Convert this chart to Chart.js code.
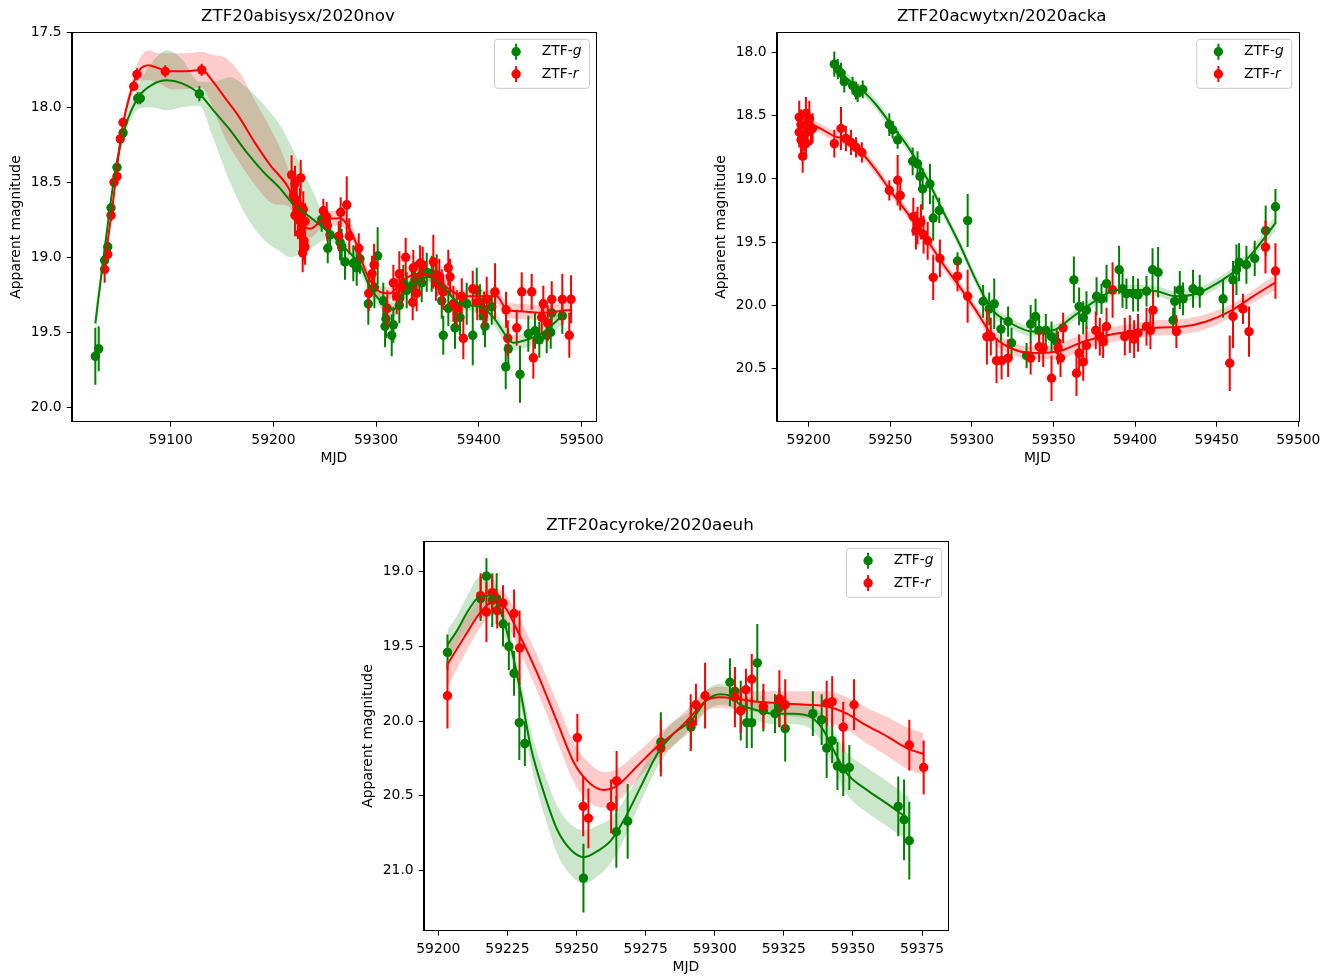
<!DOCTYPE html>
<html>
<head>
<meta charset="utf-8">
<title>ZTF light curves</title>
<script src="https://cdn.jsdelivr.net/npm/chart.js@4.4.0/dist/chart.umd.min.js"></script>
<style>
  html, body { margin: 0; padding: 0; background: #fff; overflow: hidden; }
  body { width: 1334px; height: 977px; position: relative; }
  canvas { position: absolute; }
</style>
</head>
<body>
<canvas id="c1" width="668" height="480" style="left:0px;top:0px"></canvas>
<canvas id="c2" width="668" height="480" style="left:705px;top:0px"></canvas>
<canvas id="c3" width="668" height="480" style="left:352px;top:509px"></canvas>
<script>
// ---- panel 1: ZTF20abisysx/2020nov ----
const title1 = 'ZTF20abisysx/2020nov';
const xTicks1 = [59100, 59200, 59300, 59400, 59500];
const yTicks1 = [17.5, 18.0, 18.5, 19.0, 19.5, 20.0];
const gMjd1 = [59026.6, 59029.9, 59035.7, 59038.7, 59041.9, 59047.7, 59053.6, 59067.9, 59070.4, 59127.9,
  59220.5, 59226.0, 59247.0, 59252.9, 59255.1, 59264.9, 59266.5, 59269.7, 59277.8, 59281.1,
  59284.3, 59301.5, 59298.3, 59292.4, 59307.0, 59309.6, 59308.7, 59315.2, 59316.8, 59322.6,
  59326.5, 59329.8, 59334.7, 59337.9, 59342.1, 59344.4, 59349.3, 59354.1, 59359.0, 59363.9,
  59365.4, 59370.3, 59376.8, 59381.7, 59388.2, 59394.1, 59398.0, 59401.2, 59404.4, 59406.0,
  59412.6, 59426.2, 59428.7, 59440.1, 59448.2, 59454.7, 59458.9, 59466.1, 59470.0, 59471.0, 59481.3];
const gMag1 = [19.66, 19.61, 19.02, 18.93, 18.67, 18.40, 18.17, 17.94, 17.94, 17.91,
  18.62, 18.70, 18.75, 18.94, 18.85, 18.90, 18.93, 19.03, 19.04, 19.07,
  19.01, 18.99, 19.20, 19.31, 19.29, 19.41, 19.46, 19.52, 19.45, 19.32,
  19.17, 19.22, 19.19, 19.15, 19.13, 19.17, 19.10, 19.11, 19.12, 19.29,
  19.52, 19.34, 19.47, 19.40, 19.31, 19.52, 19.22, 19.30, 19.39, 19.46,
  19.33, 19.73, 19.61, 19.78, 19.51, 19.49, 19.55, 19.52, 19.50, 19.37, 19.39];
const gErr1 = [0.19, 0.15, 0.03, 0.03, 0.03, 0.03, 0.03, 0.04, 0.04, 0.05,
  0.08, 0.1, 0.08, 0.1, 0.1, 0.12, 0.12, 0.12, 0.12, 0.12,
  0.1, 0.19, 0.14, 0.14, 0.12, 0.13, 0.14, 0.14, 0.12, 0.12,
  0.12, 0.12, 0.13, 0.12, 0.12, 0.13, 0.13, 0.12, 0.14, 0.12,
  0.13, 0.12, 0.14, 0.12, 0.14, 0.2, 0.15, 0.12, 0.13, 0.14,
  0.12, 0.15, 0.14, 0.19, 0.12, 0.12, 0.12, 0.12, 0.11, 0.1, 0.12];
const rMjd1 = [59035.7, 59038.7, 59041.9, 59044.8, 59047.7, 59050.9, 59053.6, 59064.0, 59067.2, 59094.7, 59130.2,
  59217.7, 59226.6, 59221.0, 59219.4, 59222.7, 59225.9, 59229.1, 59221.0, 59224.2, 59227.5, 59230.8, 59225.9, 59229.8, 59230.8, 59228.5,
  59248.6, 59251.9, 59252.5, 59265.5, 59271.4, 59263.6, 59273.9, 59283.1, 59298.0, 59296.0,
  59292.8, 59310.9, 59316.8, 59322.6, 59320.1, 59328.8, 59325.2, 59335.6, 59336.2, 59339.5,
  59342.8, 59345.4, 59355.7, 59358.3, 59361.5, 59363.9, 59365.4, 59370.3, 59372.0, 59375.2,
  59378.5, 59383.4, 59384.9, 59394.1, 59398.5, 59405.1, 59407.7, 59415.8, 59426.5, 59428.2,
  59436.9, 59441.8, 59451.5, 59453.1, 59461.3, 59462.8, 59467.1, 59471.0, 59481.3, 59488.1, 59489.8];
const rMag1 = [19.08, 18.98, 18.72, 18.50, 18.46, 18.21, 18.10, 17.86, 17.78, 17.76, 17.75,
  18.45, 18.47, 18.51, 18.59, 18.62, 18.66, 18.68, 18.72, 18.75, 18.80, 18.76, 18.84, 18.89, 18.93, 18.97,
  18.69, 18.73, 18.79, 18.70, 18.65, 18.86, 18.86, 18.94, 19.05, 19.11,
  19.24, 19.34, 19.17, 19.11, 19.26, 19.00, 19.20, 19.30, 19.07, 19.24,
  19.04, 19.05, 19.03, 19.17, 19.13, 19.20, 19.23, 19.07, 19.13, 19.31,
  19.34, 19.26, 19.54, 19.21, 19.30, 19.35, 19.28, 19.23, 19.35, 19.54,
  19.47, 19.23, 19.23, 19.67, 19.40, 19.31, 19.44, 19.28, 19.28, 19.52, 19.28];
const rErr1 = [0.09, 0.03, 0.04, 0.03, 0.03, 0.03, 0.03, 0.03, 0.04, 0.04, 0.04,
  0.13, 0.12, 0.12, 0.14, 0.13, 0.12, 0.12, 0.14, 0.13, 0.12, 0.12, 0.12, 0.13, 0.12, 0.13,
  0.08, 0.1, 0.1, 0.1, 0.19, 0.1, 0.12, 0.1, 0.14, 0.12,
  0.12, 0.12, 0.12, 0.15, 0.12, 0.13, 0.12, 0.12, 0.12, 0.12,
  0.12, 0.12, 0.18, 0.12, 0.12, 0.12, 0.12, 0.12, 0.12, 0.12,
  0.12, 0.12, 0.14, 0.12, 0.12, 0.12, 0.15, 0.19, 0.12, 0.12,
  0.12, 0.13, 0.12, 0.14, 0.12, 0.12, 0.12, 0.12, 0.17, 0.15, 0.16];
// GP fit: mean curve and 1-sigma half width
const gFitMjd1 = [59026.6, 59036.3, 59046.1, 59055.8, 59068.8, 59081.8, 59096.4, 59111.0, 59127.9, 59141.5,
  59157.7, 59174.0, 59190.2, 59206.4, 59216.0, 59226.0, 59239.0, 59251.9, 59271.4, 59284.3,
  59294.1, 59307.0, 59316.8, 59326.5, 59342.8, 59352.5, 59365.4, 59381.7, 59401.2, 59414.2,
  59427.2, 59433.6, 59446.7, 59462.8, 59481.3];
const gFit1 = [19.44, 18.91, 18.42, 18.13, 17.93, 17.85, 17.82, 17.84, 17.91, 18.02,
  18.15, 18.30, 18.43, 18.54, 18.62, 18.68, 18.75, 18.82, 18.95, 19.05,
  19.20, 19.31, 19.35, 19.24, 19.15, 19.13, 19.20, 19.31, 19.33, 19.40,
  19.53, 19.57, 19.55, 19.50, 19.39];
const gSig1 = [0.1, 0.04, 0.04, 0.05, 0.08, 0.15, 0.2, 0.16, 0.08, 0.19,
  0.35, 0.43, 0.45, 0.42, 0.38, 0.3, 0.18, 0.06, 0.05, 0.05,
  0.05, 0.05, 0.05, 0.05, 0.04, 0.04, 0.04, 0.04, 0.04, 0.05,
  0.05, 0.05, 0.05, 0.05, 0.06];
const rFitMjd1 = [59035.7, 59042.9, 59052.6, 59062.3, 59068.8, 59078.6, 59088.3, 59101.3, 59115.0, 59130.2,
  59140.2, 59153.2, 59166.2, 59182.4, 59198.6, 59206.4, 59214.9, 59225.9, 59235.6, 59248.6,
  59264.9, 59277.8, 59290.8, 59303.8, 59313.5, 59326.5, 59342.8, 59355.7, 59368.7, 59384.9,
  59401.2, 59417.4, 59427.2, 59440.1, 59459.6, 59490.4];
const rFit1 = [19.04, 18.68, 18.15, 17.87, 17.76, 17.72, 17.74, 17.76, 17.76, 17.75,
  17.82, 17.94, 18.06, 18.24, 18.40, 18.46, 18.54, 18.75, 18.81, 18.75,
  18.74, 18.86, 19.11, 19.23, 19.24, 19.15, 19.11, 19.13, 19.20, 19.26,
  19.26, 19.26, 19.35, 19.36, 19.37, 19.35];
const rSig1 = [0.04, 0.04, 0.04, 0.05, 0.07, 0.1, 0.1, 0.12, 0.12, 0.12,
  0.17, 0.27, 0.3, 0.28, 0.24, 0.19, 0.12, 0.08, 0.06, 0.05,
  0.05, 0.05, 0.05, 0.04, 0.04, 0.04, 0.04, 0.04, 0.04, 0.04,
  0.04, 0.05, 0.05, 0.05, 0.05, 0.06];

// ---- panel 2: ZTF20acwytxn/2020acka ----
const title2 = 'ZTF20acwytxn/2020acka';
const xTicks2 = [59200, 59250, 59300, 59350, 59400, 59450, 59500];
const yTicks2 = [18.0, 18.5, 19.0, 19.5, 20.0, 20.5];
const gMjd2 = [59215.7, 59217.8, 59219.8, 59221.8, 59226.9, 59229.0, 59230.0, 59233.1, 59249.4, 59251.4,
  59254.5, 59263.7, 59266.7, 59268.2, 59269.8, 59274.3, 59276.3, 59280.0, 59291.2, 59297.4,
  59306.9, 59310.6, 59313.7, 59317.8, 59322.2, 59324.3, 59333.5, 59336.0, 59339.0, 59341.2,
  59345.3, 59348.8, 59351.9, 59362.5, 59365.7, 59368.2, 59370.2, 59376.4, 59379.4, 59382.5,
  59390.2, 59392.3, 59394.7, 59398.8, 59401.8, 59407.0, 59410.7, 59414.1, 59423.3, 59424.3,
  59427.4, 59429.4, 59435.5, 59439.6, 59453.9, 59460.0, 59462.1, 59463.7, 59468.2, 59473.3, 59480.0, 59486.0];
const gMag2 = [18.09, 18.13, 18.16, 18.23, 18.26, 18.30, 18.32, 18.29, 18.57, 18.61,
  18.69, 18.86, 18.88, 18.98, 19.08, 19.04, 19.31, 19.25, 19.65, 19.33,
  19.97, 20.03, 19.99, 20.19, 20.13, 20.30, 20.40, 20.15, 20.09, 20.20,
  20.20, 20.25, 20.29, 19.80, 20.01, 20.10, 20.04, 19.93, 19.95, 19.83,
  19.72, 19.87, 19.91, 19.91, 19.92, 19.89, 19.72, 19.74, 20.12, 19.97,
  19.88, 19.95, 19.87, 19.89, 19.95, 19.80, 19.72, 19.66, 19.68, 19.63, 19.41, 19.22];
const gErr2 = [0.1, 0.08, 0.08, 0.085, 0.07, 0.07, 0.07, 0.07, 0.09, 0.07,
  0.07, 0.11, 0.1, 0.1, 0.165, 0.16, 0.18, 0.1, 0.07, 0.21,
  0.13, 0.13, 0.2, 0.1, 0.12, 0.12, 0.1, 0.15, 0.14, 0.12,
  0.13, 0.12, 0.1, 0.185, 0.15, 0.13, 0.15, 0.15, 0.12, 0.15,
  0.19, 0.15, 0.12, 0.14, 0.13, 0.12, 0.17, 0.2, 0.1, 0.12,
  0.15, 0.13, 0.15, 0.13, 0.15, 0.15, 0.2, 0.15, 0.15, 0.14, 0.2, 0.14];
const rMjd2 = [59194.2, 59198.3, 59200.4, 59195.3, 59199.4, 59202.4, 59194.2, 59197.3, 59201.4, 59195.3, 59198.3, 59196.3,
  59215.7, 59219.8, 59222.8, 59225.9, 59229.0, 59232.6,
  59249.4, 59254.5, 59256.1, 59264.1, 59266.7, 59268.8, 59265.7, 59270.4, 59272.9, 59276.3, 59280.4,
  59291.2, 59297.4, 59309.2, 59311.6, 59315.1, 59318.2, 59322.2, 59336.0, 59341.2, 59343.7, 59348.8,
  59352.8, 59354.3, 59355.9, 59364.1, 59365.7, 59368.2, 59370.2, 59375.9, 59378.4, 59380.4, 59382.5,
  59386.2, 59393.7, 59396.8, 59399.4, 59401.8, 59407.0, 59409.4, 59411.0, 59425.3,
  59458.0, 59460.0, 59466.1, 59469.8, 59479.9, 59486.0];
const rMag2 = [18.51, 18.48, 18.52, 18.57, 18.59, 18.60, 18.63, 18.65, 18.61, 18.69, 18.72, 18.82,
  18.72, 18.60, 18.68, 18.71, 18.75, 18.79,
  19.09, 19.01, 19.13, 19.30, 19.37, 19.34, 19.41, 19.44, 19.49, 19.78, 19.63,
  19.77, 19.93, 20.25, 20.25, 20.44, 20.44, 20.42, 20.42, 20.33, 20.34, 20.58,
  20.34, 20.42, 20.18, 20.54, 20.38, 20.45, 20.32, 20.20, 20.25, 20.29, 20.17,
  19.88, 20.25, 20.23, 20.27, 20.22, 20.17, 20.20, 20.04, 20.21,
  20.46, 20.09, 20.03, 20.21, 19.54, 19.73];
const rErr2 = [0.13, 0.13, 0.14, 0.12, 0.13, 0.12, 0.12, 0.13, 0.12, 0.12, 0.12, 0.13,
  0.11, 0.17, 0.1, 0.1, 0.08, 0.08,
  0.08, 0.2, 0.12, 0.15, 0.15, 0.14, 0.15, 0.15, 0.15, 0.18, 0.15,
  0.12, 0.21, 0.22, 0.15, 0.18, 0.15, 0.15, 0.13, 0.12, 0.15, 0.18,
  0.13, 0.15, 0.12, 0.18, 0.15, 0.15, 0.15, 0.15, 0.15, 0.13, 0.15,
  0.22, 0.15, 0.15, 0.15, 0.15, 0.15, 0.15, 0.16, 0.13,
  0.22, 0.25, 0.12, 0.2, 0.21, 0.22];
const gFitMjd2 = [59215.7, 59224.0, 59233.1, 59241.2, 59249.4, 59261.6, 59271.8, 59282.1, 59292.2, 59302.4,
  59312.0, 59323.3, 59337.5, 59349.8, 59362.0, 59376.4, 59388.6, 59400.9, 59413.1, 59425.3,
  59437.6, 59449.8, 59462.1, 59474.3, 59486.0];
const gFit2 = [18.10, 18.21, 18.30, 18.41, 18.55, 18.76, 18.98, 19.25, 19.51, 19.80,
  20.03, 20.14, 20.21, 20.20, 20.09, 19.96, 19.88, 19.88, 19.89, 19.93,
  19.91, 19.83, 19.72, 19.55, 19.35];
const gSig2 = [0.05, 0.04, 0.04, 0.04, 0.04, 0.04, 0.04, 0.04, 0.04, 0.04,
  0.04, 0.04, 0.04, 0.04, 0.04, 0.04, 0.04, 0.04, 0.04, 0.04,
  0.04, 0.04, 0.04, 0.05, 0.06];
const rFitMjd2 = [59194.2, 59202.4, 59215.7, 59222.8, 59233.0, 59241.2, 59249.4, 59261.6, 59271.8, 59282.1,
  59292.2, 59302.4, 59312.0, 59322.0, 59337.5, 59351.9, 59368.2, 59382.5, 59396.8, 59413.1,
  59429.4, 59443.7, 59458.0, 59472.3, 59486.0];
const rFit2 = [18.55, 18.57, 18.66, 18.69, 18.80, 18.93, 19.08, 19.29, 19.47, 19.67,
  19.85, 20.04, 20.23, 20.33, 20.38, 20.37, 20.29, 20.24, 20.21, 20.18,
  20.17, 20.13, 20.05, 19.93, 19.82];
const rSig2 = [0.05, 0.04, 0.04, 0.04, 0.04, 0.04, 0.04, 0.04, 0.04, 0.04,
  0.04, 0.04, 0.05, 0.05, 0.05, 0.06, 0.06, 0.06, 0.06, 0.06,
  0.06, 0.06, 0.05, 0.05, 0.06];

// ---- panel 3: ZTF20acyroke/2020aeuh ----
const title3 = 'ZTF20acyroke/2020aeuh';
const xTicks3 = [59200, 59225, 59250, 59275, 59300, 59325, 59350, 59375];
const yTicks3 = [19.0, 19.5, 20.0, 20.5, 21.0];
const gMjd3 = [59203.3, 59215.3, 59217.4, 59219.5, 59221.1, 59223.4, 59225.5, 59227.4, 59229.3, 59231.3,
  59252.5, 59264.4, 59268.5, 59280.5, 59291.4,
  59305.5, 59307.3, 59309.4, 59311.6, 59313.4, 59315.4, 59317.6, 59321.8, 59323.4, 59325.5,
  59335.5, 59338.7, 59340.5, 59342.5, 59344.4, 59346.5, 59348.7, 59366.4, 59368.5, 59370.4];
const gMag3 = [19.54, 19.18, 19.03, 19.19, 19.18, 19.35, 19.50, 19.68, 20.01, 20.15,
  21.05, 20.74, 20.67, 20.14, 20.04,
  19.74, 19.80, 19.93, 20.01, 20.01, 19.61, 19.93, 19.95, 19.91, 20.05,
  19.95, 19.99, 20.18, 20.13, 20.30, 20.32, 20.31, 20.57, 20.66, 20.80];
const gErr3 = [0.12, 0.15, 0.12, 0.18, 0.17, 0.15, 0.16, 0.15, 0.25, 0.15,
  0.23, 0.24, 0.25, 0.2, 0.15,
  0.16, 0.16, 0.2, 0.17, 0.17, 0.26, 0.14, 0.13, 0.13, 0.22,
  0.15, 0.17, 0.2, 0.15, 0.16, 0.18, 0.15, 0.2, 0.27, 0.26];
const rMjd3 = [59203.3, 59215.3, 59217.4, 59219.5, 59221.3, 59223.4, 59227.4, 59229.4,
  59250.3, 59252.4, 59254.3, 59262.5, 59264.5, 59280.5, 59291.3, 59293.2, 59296.5,
  59307.3, 59309.4, 59311.3, 59313.4, 59317.6, 59323.4, 59325.5,
  59340.5, 59342.5, 59346.5, 59350.4, 59370.4, 59375.6];
const rMag3 = [19.83, 19.16, 19.27, 19.14, 19.26, 19.21, 19.28, 19.51,
  20.11, 20.57, 20.65, 20.57, 20.40, 20.18, 20.01, 19.89, 19.83,
  19.84, 19.93, 19.79, 19.72, 19.90, 19.85, 19.89,
  19.88, 19.87, 20.04, 19.89, 20.16, 20.31];
const rErr3 = [0.22, 0.15, 0.2, 0.12, 0.12, 0.12, 0.16, 0.25,
  0.16, 0.2, 0.2, 0.18, 0.2, 0.19, 0.19, 0.14, 0.22,
  0.2, 0.15, 0.14, 0.17, 0.15, 0.19, 0.17,
  0.15, 0.17, 0.17, 0.17, 0.17, 0.18];
const gFitMjd3 = [59203.3, 59206.9, 59210.5, 59214.7, 59219.0, 59222.6, 59226.2, 59229.8, 59233.4, 59238.2,
  59243.1, 59247.9, 59252.7, 59257.5, 59262.4, 59267.2, 59273.2, 59279.2, 59285.3, 59291.3,
  59297.1, 59301.9, 59305.5, 59309.2, 59314.0, 59321.2, 59328.4, 59334.5, 59339.3, 59342.9,
  59347.8, 59355.0, 59362.2, 59370.4];
const gFit3 = [19.49, 19.39, 19.27, 19.17, 19.16, 19.27, 19.50, 19.81, 20.17, 20.48,
  20.73, 20.86, 20.91, 20.87, 20.80, 20.66, 20.44, 20.22, 20.08, 20.00,
  19.86, 19.82, 19.83, 19.89, 19.92, 19.95, 19.95, 19.97, 20.06, 20.19,
  20.35, 20.46, 20.55, 20.66];
const gSig3 = [0.1, 0.1, 0.11, 0.13, 0.12, 0.09, 0.08, 0.09, 0.11, 0.14,
  0.16, 0.17, 0.18, 0.17, 0.15, 0.13, 0.1, 0.09, 0.08, 0.07,
  0.07, 0.07, 0.07, 0.07, 0.07, 0.07, 0.07, 0.08, 0.1, 0.12,
  0.14, 0.15, 0.15, 0.15];
const rFitMjd3 = [59203.3, 59209.3, 59215.3, 59220.2, 59223.8, 59229.8, 59235.8, 59243.1, 59249.1, 59255.1,
  59260.0, 59264.8, 59272.0, 59279.2, 59286.5, 59292.3, 59297.1, 59301.9, 59308.0, 59315.2,
  59323.6, 59333.3, 59340.5, 59347.8, 59355.0, 59362.2, 59369.5, 59375.6];
const rFit3 = [19.62, 19.44, 19.27, 19.20, 19.23, 19.44, 19.68, 20.01, 20.28, 20.42,
  20.46, 20.43, 20.30, 20.17, 20.06, 19.95, 19.86, 19.84, 19.85, 19.87,
  19.88, 19.89, 19.90, 19.95, 20.03, 20.10, 20.18, 20.22];
const rSig3 = [0.15, 0.12, 0.1, 0.09, 0.09, 0.11, 0.12, 0.13, 0.13, 0.13,
  0.12, 0.11, 0.09, 0.08, 0.08, 0.07, 0.07, 0.07, 0.07, 0.07,
  0.08, 0.09, 0.1, 0.11, 0.12, 0.13, 0.14, 0.14];

const GREEN = '#008000';
const RED = '#ff0000';
const FONT = 'DejaVu Sans';
Chart.defaults.font.family = FONT;
Chart.defaults.color = '#000';

// vertical error bars, drawn under the markers of each dataset
const errorBars = {
  id: 'errorBars',
  beforeDatasetDraw(chart, args) {
    const ds = chart.data.datasets[args.index];
    if (!ds.errors) return;
    const { ctx, chartArea: a, scales: { x, y } } = chart;
    ctx.save();
    ctx.beginPath();
    ctx.rect(a.left, a.top, a.width, a.height);
    ctx.clip();
    ctx.strokeStyle = ds.borderColor;
    ctx.lineWidth = 2;
    ds.data.forEach(function(p, i) {
      const e = ds.errors[i] || 0;
      const px = x.getPixelForValue(p.x);
      ctx.beginPath();
      ctx.moveTo(px, y.getPixelForValue(p.y - e));
      ctx.lineTo(px, y.getPixelForValue(p.y + e));
      ctx.stroke();
    });
    ctx.restore();
  }
};

// top and right spines
const frame = {
  id: 'frame',
  afterDatasetsDraw(chart) {
    const { ctx, chartArea: a } = chart;
    ctx.save();
    ctx.strokeStyle = '#000';
    ctx.lineWidth = 1;
    ctx.strokeRect(Math.round(a.left) + 0.5, Math.round(a.top) + 0.5,
      Math.round(a.width), Math.round(a.height));
    ctx.restore();
  }
};

// matplotlib-like legend box in the upper right corner
const legendBox = {
  id: 'legendBox',
  afterDraw(chart) {
    const { ctx, chartArea: a } = chart;
    const items = chart.data.datasets.filter(d => d.label);
    const w = 95, h = 49, r = 3;
    const x0 = a.right - 6.5 - w, y0 = a.top + 7;
    ctx.save();
    ctx.beginPath();
    ctx.moveTo(x0 + r, y0);
    ctx.arcTo(x0 + w, y0, x0 + w, y0 + h, r);
    ctx.arcTo(x0 + w, y0 + h, x0, y0 + h, r);
    ctx.arcTo(x0, y0 + h, x0, y0, r);
    ctx.arcTo(x0, y0, x0 + w, y0, r);
    ctx.closePath();
    ctx.fillStyle = 'rgba(255,255,255,0.8)';
    ctx.fill();
    ctx.strokeStyle = '#cccccc';
    ctx.lineWidth = 1;
    ctx.stroke();
    items.forEach(function(d, i) {
      const cy = y0 + 12.4 + i * 22.3;
      const cx = x0 + 21.6;
      ctx.strokeStyle = d.borderColor;
      ctx.lineWidth = 2;
      ctx.beginPath();
      ctx.moveTo(cx, cy - 8);
      ctx.lineTo(cx, cy + 8);
      ctx.stroke();
      ctx.fillStyle = d.borderColor;
      ctx.beginPath();
      ctx.arc(cx, cy, 4.7, 0, Math.PI * 2);
      ctx.fill();
      const parts = d.label.split('-');
      ctx.fillStyle = '#000';
      ctx.textBaseline = 'middle';
      ctx.font = '13.9px "' + FONT + '"';
      const tx = x0 + 47.3;
      ctx.fillText(parts[0] + '-', tx, cy);
      const tw = ctx.measureText(parts[0] + '-').width;
      ctx.font = 'italic 13.9px "' + FONT + '"';
      ctx.fillText(parts[1], tx + tw, cy);
    });
    ctx.restore();
  }
};

function makePanel(id, o) {
  const xy = (xs, ys) => xs.map((x, i) => ({ x: x, y: ys[i] }));
  const edge = (xs, ys, ss, k) => xs.map((x, i) => ({ x: x, y: ys[i] + k * ss[i] }));
  const band = (data, fill, color) => ({
    data: data, fill: fill, backgroundColor: color, borderWidth: 0, pointRadius: 0,
    cubicInterpolationMode: 'monotone', order: 10
  });
  const fitLine = (data, color, order) => ({
    data: data, borderColor: color, borderWidth: 2, pointRadius: 0, fill: false,
    cubicInterpolationMode: 'monotone', order: order
  });
  const points = (label, data, errs, color, order) => ({
    label: label, data: data, errors: errs, showLine: false, pointRadius: 4.7,
    pointBackgroundColor: color, pointBorderWidth: 0, borderColor: color,
    backgroundColor: color, order: order
  });
  const tickFont = { family: FONT, size: 13.9 };

  return new Chart(document.getElementById(id), {
    type: 'line',
    data: {
      datasets: [
        band(edge(o.gFitMjd, o.gFit, o.gSig, -1), '+1', 'rgba(0,128,0,0.2)'),
        band(edge(o.gFitMjd, o.gFit, o.gSig, 1), false, 'transparent'),
        band(edge(o.rFitMjd, o.rFit, o.rSig, -1), '+1', 'rgba(255,0,0,0.2)'),
        band(edge(o.rFitMjd, o.rFit, o.rSig, 1), false, 'transparent'),
        points('ZTF-g', xy(o.gMjd, o.gMag), o.gErr, GREEN, 6),
        points('ZTF-r', xy(o.rMjd, o.rMag), o.rErr, RED, 5),
        fitLine(xy(o.gFitMjd, o.gFit), GREEN, 2),
        fitLine(xy(o.rFitMjd, o.rFit), RED, 1)
      ]
    },
    options: {
      responsive: false,
      animation: false,
      events: [],
      layout: { padding: { left: 0, top: 0, bottom: 0, right: o.padRight } },
      plugins: {
        legend: { display: false },
        tooltip: { enabled: false },
        title: {
          display: true, text: o.title, color: '#000',
          font: { family: FONT, size: 16.7, weight: 'normal' },
          padding: { top: 7, bottom: 5.3 }
        }
      },
      scales: {
        x: {
          type: 'linear', min: o.xMin, max: o.xMax,
          afterFit: s => { s.height = 58.3; },
          afterBuildTicks: s => { s.ticks = o.xTicks.map(v => ({ value: v })); },
          ticks: { callback: v => String(v), font: tickFont, color: '#000', padding: 5, maxRotation: 0, autoSkip: false },
          grid: { drawOnChartArea: false, drawTicks: true, tickLength: 5, color: '#000' },
          border: { display: true, color: '#000', width: 1 },
          title: { display: true, text: 'MJD', color: '#000', font: tickFont, padding: { top: 0, bottom: 13.7 } }
        },
        y: {
          type: 'linear', reverse: true, min: o.yMin, max: o.yMax,
          afterFit: s => { s.width = 71.7; },
          afterBuildTicks: s => { s.ticks = o.yTicks.map(v => ({ value: v })); },
          ticks: { callback: v => v.toFixed(1), font: tickFont, color: '#000', padding: 5, autoSkip: false },
          grid: { drawOnChartArea: false, drawTicks: true, tickLength: 5, color: '#000' },
          border: { display: true, color: '#000', width: 1 },
          title: { display: true, text: 'Apparent magnitude', color: '#000', font: tickFont, padding: { top: 7.7, bottom: 0 } }
        }
      }
    },
    plugins: [errorBars, frame, legendBox]
  });
}

makePanel('c1', {
  title: title1, xTicks: xTicks1, yTicks: yTicks1,
  xMin: 59003.6, xMax: 59514.1, yMin: 17.5, yMax: 20.096, padRight: 72,
  gMjd: gMjd1, gMag: gMag1, gErr: gErr1, rMjd: rMjd1, rMag: rMag1, rErr: rErr1,
  gFitMjd: gFitMjd1, gFit: gFit1, gSig: gSig1, rFitMjd: rFitMjd1, rFit: rFit1, rSig: rSig1
});
makePanel('c2', {
  title: title2, xTicks: xTicks2, yTicks: yTicks2,
  xMin: 59180.4, xMax: 59500, yMin: 17.838, yMax: 20.924, padRight: 74.7,
  gMjd: gMjd2, gMag: gMag2, gErr: gErr2, rMjd: rMjd2, rMag: rMag2, rErr: rErr2,
  gFitMjd: gFitMjd2, gFit: gFit2, gSig: gSig2, rFitMjd: rFitMjd2, rFit: rFit2, rSig: rSig2
});
makePanel('c3', {
  title: title3, xTicks: xTicks3, yTicks: yTicks3,
  xMin: 59194.7, xMax: 59384.4, yMin: 18.797, yMax: 21.402, padRight: 72,
  gMjd: gMjd3, gMag: gMag3, gErr: gErr3, rMjd: rMjd3, rMag: rMag3, rErr: rErr3,
  gFitMjd: gFitMjd3, gFit: gFit3, gSig: gSig3, rFitMjd: rFitMjd3, rFit: rFit3, rSig: rSig3
});
</script>
</body>
</html>
